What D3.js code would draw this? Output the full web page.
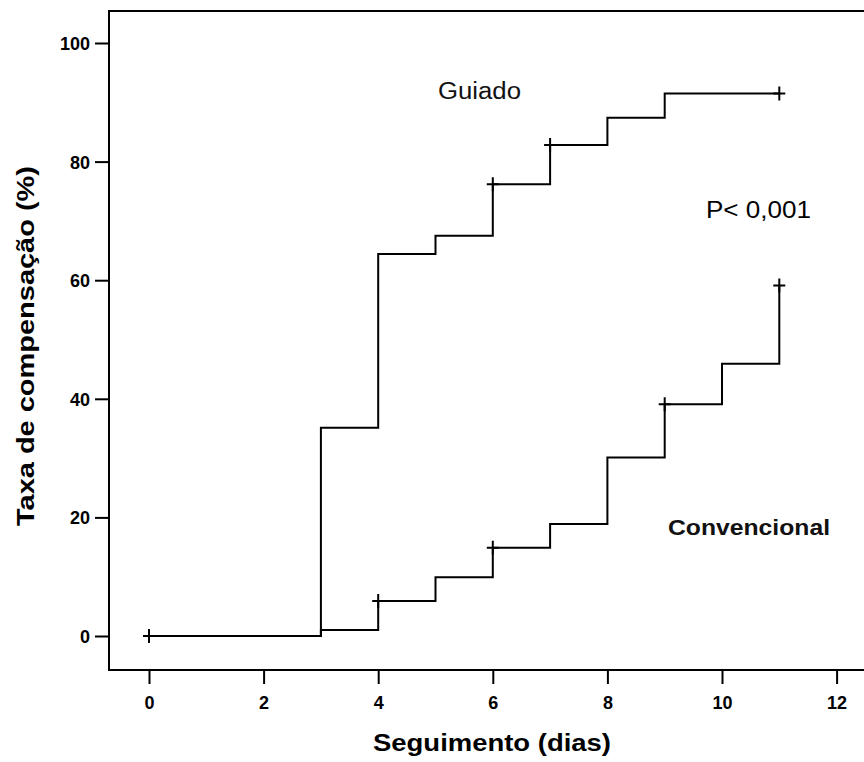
<!DOCTYPE html>
<html>
<head>
<meta charset="utf-8">
<script src="https://cdn.jsdelivr.net/npm/d3@7"></script>
<style>
  html, body { margin: 0; padding: 0; background: #fff; }
  svg { display: block; }
</style>
</head>
<body>
<svg id="chart" width="864" height="762"></svg>
<script>
// Kaplan–Meier style cumulative compensation rate per group
const guiadoTimes = [0, 3, 4, 5, 6, 7, 8, 9, 11];
const guiadoRates = [0, 35.1, 64.4, 67.5, 76.2, 82.8, 87.4, 91.5, 91.5];
const guiadoCensored = [6, 7, 11];

const convTimes = [0, 3, 4, 5, 6, 7, 8, 9, 10, 11];
const convRates = [0, 1.0, 5.9, 9.9, 14.9, 18.9, 30.1, 39.1, 45.9, 59.1];
const convCensored = [0, 4, 6, 9, 11];

const xTicks = [0, 2, 4, 6, 8, 10, 12];
const yTicks = [0, 20, 40, 60, 80, 100];

const xTitle = "Seguimento (dias)";
const yTitle = "Taxa de compensação (%)";
const groupLabels = ["Guiado", "Convencional"];
const pLabel = "P< 0,001";

const svg = d3.select("#chart");

const frame = { left: 109, top: 11, bottom: 670, right: 900 };
const x = d3.scaleLinear().domain([0, 12]).range([149, 836.6]);
const y = d3.scaleLinear().domain([0, 100]).range([636, 43]);

const tickFont = "'Liberation Sans', Arial, sans-serif";

// plot frame (open on the right edge)
svg.append("path")
  .attr("d", `M${frame.right},${frame.top} H${frame.left} V${frame.bottom} H${frame.right}`)
  .attr("fill", "none")
  .attr("stroke", "#000")
  .attr("stroke-width", 2);

// y axis
const yAxis = svg.append("g")
  .attr("transform", `translate(${frame.left},0)`)
  .call(d3.axisLeft(y).tickValues(yTicks).tickSize(14).tickPadding(5));
yAxis.select(".domain").remove();
yAxis.selectAll(".tick line").attr("stroke", "#000").attr("stroke-width", 2);
yAxis.selectAll(".tick text")
  .attr("fill", "#000")
  .style("font-family", tickFont)
  .style("font-weight", "bold")
  .style("font-size", "18px")
  .attr("dy", "0.36em");

// x axis
const xAxis = svg.append("g")
  .attr("transform", `translate(0,${frame.bottom})`)
  .call(d3.axisBottom(x).tickValues(xTicks).tickSize(14).tickPadding(12));
xAxis.select(".domain").remove();
xAxis.selectAll(".tick line").attr("stroke", "#000").attr("stroke-width", 2);
xAxis.selectAll(".tick text")
  .attr("fill", "#000")
  .style("font-family", tickFont)
  .style("font-weight", "bold")
  .style("font-size", "18px");

// step curves
const line = d3.line()
  .x(d => x(d[0]))
  .y(d => y(d[1]))
  .curve(d3.curveStepAfter);

const groups = [
  { times: guiadoTimes, rates: guiadoRates, censored: guiadoCensored },
  { times: convTimes, rates: convRates, censored: convCensored }
];

function rateAt(g, t) {
  let r = g.rates[0];
  g.times.forEach((tt, i) => { if (tt <= t) r = g.rates[i]; });
  return r;
}

groups.forEach(g => {
  const pts = g.times.map((t, i) => [t, g.rates[i]]);
  svg.append("path")
    .attr("d", line(pts))
    .attr("fill", "none")
    .attr("stroke", "#000")
    .attr("stroke-width", 2)
    .attr("stroke-linejoin", "miter");

  // censoring marks
  svg.append("g").selectAll("path")
    .data(g.censored)
    .join("path")
    .attr("d", t => {
      const cx = x(t), cy = y(rateAt(g, t));
      return `M${cx - 6},${cy} H${cx + 6} M${cx},${cy - 7} V${cy + 7}`;
    })
    .attr("stroke", "#000")
    .attr("stroke-width", 2)
    .attr("fill", "none");
});

// annotations
svg.append("text")
  .attr("x", 438).attr("y", 99)
  .attr("textLength", 83).attr("lengthAdjust", "spacingAndGlyphs")
  .style("font-family", "Arial, 'Liberation Sans', sans-serif")
  .style("font-size", "23px")
  .attr("fill", "#111")
  .text(groupLabels[0]);

svg.append("text")
  .attr("x", 668).attr("y", 535)
  .attr("textLength", 162).attr("lengthAdjust", "spacingAndGlyphs")
  .style("font-family", "Arial, 'Liberation Sans', sans-serif")
  .style("font-size", "22px")
  .style("font-weight", "bold")
  .attr("fill", "#111")
  .text(groupLabels[1]);

svg.append("text")
  .attr("x", 706).attr("y", 218)
  .attr("textLength", 105).attr("lengthAdjust", "spacingAndGlyphs")
  .style("font-family", "Arial, 'Liberation Sans', sans-serif")
  .style("font-size", "23px")
  .attr("fill", "#000")
  .text(pLabel);

// axis titles
svg.append("text")
  .attr("x", 373).attr("y", 751)
  .attr("textLength", 238).attr("lengthAdjust", "spacingAndGlyphs")
  .style("font-family", tickFont)
  .style("font-size", "23px")
  .style("font-weight", "bold")
  .attr("fill", "#000")
  .text(xTitle);

svg.append("text")
  .attr("transform", "translate(34,526) rotate(-90)")
  .attr("x", 0).attr("y", 0)
  .attr("textLength", 360).attr("lengthAdjust", "spacingAndGlyphs")
  .style("font-family", tickFont)
  .style("font-size", "23px")
  .style("font-weight", "bold")
  .attr("fill", "#000")
  .text(yTitle);
</script>
</body>
</html>
